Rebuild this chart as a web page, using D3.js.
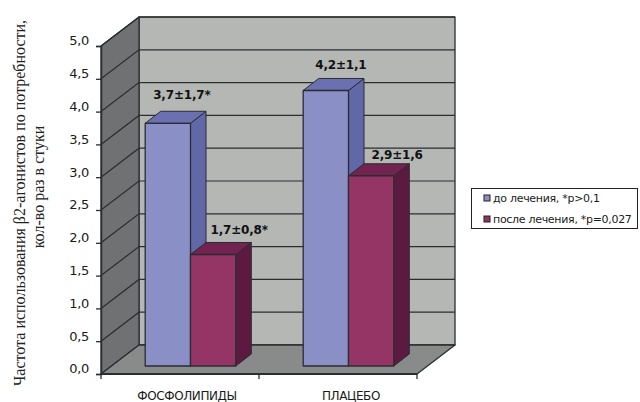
<!DOCTYPE html>
<html>
<head>
<meta charset="utf-8">
<script src="https://cdn.jsdelivr.net/npm/d3@7"></script>
<style>
html,body{margin:0;padding:0;background:#fff}
svg{display:block}
</style>
</head>
<body>
<svg id="chart" width="640" height="402"></svg>
<script>
const categories = ["ФОСФОЛИПИДЫ", "ПЛАЦЕБО"];
const seriesNames = ["до лечения, *p>0,1", "после лечения, *p=0,027"];
const beforeValues = [3.7, 4.2];
const afterValues = [1.7, 2.9];
const beforeLabels = ["3,7±1,7*", "4,2±1,1"];
const afterLabels = ["1,7±0,8*", "2,9±1,6"];
const yTicks = [0, 0.5, 1, 1.5, 2, 2.5, 3, 3.5, 4, 4.5, 5];
const titleLines = ["Частота использования β2-агонистов по потребности,", "кол-во раз в стуки"];

const palettes = [
  {front: "#8a8fc6", side: "#6068a8", top: "#6a70b0"},
  {front: "#953565", side: "#5c1a40", top: "#722350"}
];

const svg = d3.select("#chart");
const y = d3.scaleLinear().domain([0, 5]).range([374, 46]);
const x0 = d3.scaleBand().domain(categories).range([101, 417]);
const x1 = d3.scaleBand().domain([0, 1]).range([0, 90.6]);

// oblique projection offsets of the 3D box
const depth = {dx: 38, dy: -29};
const barInset = {dx: 10.5, dy: -8};
const barDepth = {dx: 15.5, dy: -12};
const ink = "#2b2d30";

const poly = (pts, fill, stroke, w) => svg.append("polygon")
  .attr("points", pts.map(p => p.join(",")).join(" "))
  .attr("fill", fill)
  .attr("stroke", stroke || "none")
  .attr("stroke-width", w || 0)
  .attr("stroke-linejoin", "round");

const xL = x0.range()[0], xR = x0.range()[1];
const y0 = y(0), yTop = y(5);

// walls and floor
poly([[xL + depth.dx, yTop + depth.dy], [xR + depth.dx, yTop + depth.dy], [xR + depth.dx, y0 + depth.dy], [xL + depth.dx, y0 + depth.dy]], "#b5b7b5", ink, 1.3);
poly([[xL, yTop], [xL + depth.dx, yTop + depth.dy], [xL + depth.dx, y0 + depth.dy], [xL, y0]], "#6f7172", ink, 1.3);
poly([[xL, y0], [xL + depth.dx, y0 + depth.dy], [xR + depth.dx, y0 + depth.dy], [xR, y0]], "#888b8a", ink, 1.3);

// gridlines bending along the side and back walls
svg.append("g").selectAll("polyline").data(yTicks.filter(t => t > 0)).join("polyline")
  .attr("points", t => `${xL},${y(t)} ${xL + depth.dx},${y(t) + depth.dy} ${xR + depth.dx},${y(t) + depth.dy}`)
  .attr("fill", "none")
  .attr("stroke", ink)
  .attr("stroke-width", 1.2);

// axes
const yAxis = d3.axisLeft(y).tickValues(yTicks).tickSize(5).tickPadding(7)
  .tickFormat(d => d3.format(".1f")(d).replace(".", ","));
svg.append("g").attr("transform", `translate(${xL},0)`).call(yAxis)
  .call(g => g.select(".domain").attr("stroke", ink).attr("stroke-width", 1.5))
  .call(g => g.selectAll(".tick line").attr("stroke", ink).attr("stroke-width", 1.3))
  .call(g => g.selectAll("text").attr("fill", "#1a1a1a").attr("dy", "-0.08em")
    .style("font", "13px 'DejaVu Sans'").style("letter-spacing", "-0.3px"));

svg.append("line").attr("x1", xL).attr("x2", xR).attr("y1", y0).attr("y2", y0)
  .attr("stroke", ink).attr("stroke-width", 1.8);
svg.append("g").selectAll("line").data([xL, xL + x0.step(), xR]).join("line")
  .attr("x1", d => d).attr("x2", d => d).attr("y1", y0).attr("y2", y0 + 5)
  .attr("stroke", ink).attr("stroke-width", 1.3);

svg.append("g").selectAll("text").data(categories).join("text")
  .attr("x", (d, i) => x0(d) + x0.step() / 2 + 7 + i * 6)
  .attr("y", 400)
  .attr("text-anchor", "middle")
  .attr("fill", "#1a1a1a")
  .style("font", "12px 'DejaVu Sans'")
  .style("letter-spacing", "-0.4px")
  .text(d => d);

// one 3D bar: side, top, then front face
function drawBar(cat, s, value, label, labelDx, labelDy) {
  const pal = palettes[s];
  const groupLeft = x0(cat) + (x0.step() - x1.range()[1]) / 2 + barInset.dx;
  const a = groupLeft + x1(s), b = a + x1.bandwidth();
  const base = y0 + barInset.dy;
  const top = base - (y0 - y(value));
  const d = barDepth;
  poly([[b, top], [b + d.dx, top + d.dy], [b + d.dx, base + d.dy], [b, base]], pal.side, ink, 1);
  poly([[a, top], [a + d.dx, top + d.dy], [b + d.dx, top + d.dy], [b, top]], pal.top, ink, 1);
  poly([[a, top], [b, top], [b, base], [a, base]], pal.front, ink, 1.3);
  svg.append("text")
    .attr("x", (a + b) / 2 + labelDx)
    .attr("y", top + labelDy)
    .attr("text-anchor", "middle")
    .attr("fill", "#111")
    .style("font", "bold 12px 'DejaVu Sans'")
    .style("letter-spacing", "-0.2px")
    .text(label);
}
categories.forEach((c, i) => {
  drawBar(c, 0, beforeValues[i], beforeLabels[i], 14 + i, i ? -21 : -24);
  drawBar(c, 1, afterValues[i], afterLabels[i], 26, i ? -17 : -20);
});

// rotated axis title
svg.append("g").selectAll("text").data(titleLines).join("text")
  .attr("transform", (d, i) => `translate(${25 + i * 19},${i ? 187 : 203}) rotate(-90)`)
  .attr("text-anchor", "middle")
  .attr("fill", "#222")
  .style("font", "16px 'Liberation Serif'")
  .text(d => d);

// legend
const legend = svg.append("g");
legend.append("rect").attr("x", 471.5).attr("y", 188.5).attr("width", 166).attr("height", 40)
  .attr("fill", "#fff").attr("stroke", "#222").attr("stroke-width", 1);
const rows = legend.selectAll("g").data(seriesNames).join("g")
  .attr("transform", (d, i) => `translate(484,${198 + i * 21})`);
rows.append("rect").attr("x", 0).attr("y", -3).attr("width", 6).attr("height", 6)
  .attr("fill", (d, i) => palettes[i].front).attr("stroke", "#222").attr("stroke-width", 1);
rows.append("text").attr("x", 9).attr("y", 4)
  .attr("fill", "#1a1a1a")
  .style("font", "11px 'DejaVu Sans'")
  .style("letter-spacing", "-0.3px")
  .text(d => d);
</script>
</body>
</html>
